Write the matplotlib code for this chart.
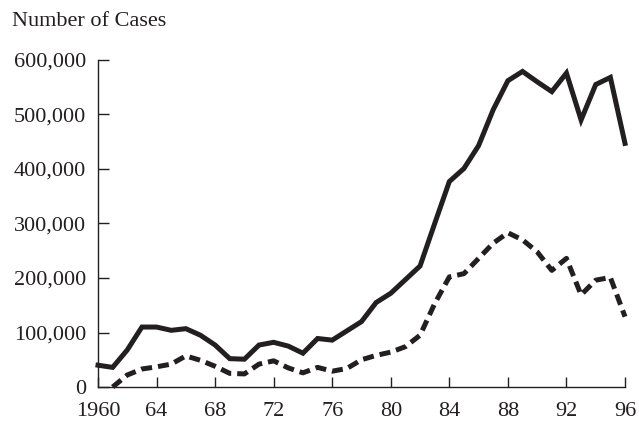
import matplotlib.pyplot as plt

# Datos
years = list(range(1960, 1997))
total = [40000, 36000, 68000, 110000, 110000, 104000, 107000, 95000, 77000, 52000,
         51000, 77000, 82000, 75000, 62000, 89000, 86000, 103000, 120000, 155000,
         172000, 197000, 222000, 300000, 377000, 401000, 443000, 509000, 562000, 579000,
         560000, 542000, 576000, 490000, 555000, 568000, 447000]
years2 = list(range(1961, 1997))
subset = [0, 22000, 33000, 37000, 42000, 57000, 49000, 38000, 25000, 24000,
          42000, 48000, 35000, 26000, 36000, 29000, 34000, 50000, 58000, 64000,
          74000, 95000, 153000, 202000, 208000, 236000, 264000, 283000, 270000, 248000,
          214000, 236000, 169000, 196000, 201000, 129000]

xticks = [1960, 1964, 1968, 1972, 1976, 1980, 1984, 1988, 1992, 1996]
xlabels = ['1960', '64', '68', '72', '76', '80', '84', '88', '92', '96']
yticks = [0, 100000, 200000, 300000, 400000, 500000, 600000]
ylabels = ['0', '100,000', '200,000', '300,000', '400,000', '500,000', '600,000']

plt.rcParams['font.family'] = 'Liberation Serif'

fig = plt.figure(figsize=(6.39, 4.23), dpi=100)
ax = fig.add_axes([98/639, 1 - 387/423, (625 - 98)/639, (387 - 60)/423])

ax.plot(years, total, color='#231f20', linewidth=3.6, solid_joinstyle='miter', clip_on=False)
ax.plot(years2, subset, color='#231f20', linewidth=3.6, linestyle=(0, (2.2, 1.2)),
        dash_capstyle='butt', clip_on=False)

ax.set_xlim(1960, 1996)
ax.set_ylim(0, 600000)
ax.spines['top'].set_visible(False)
ax.spines['right'].set_visible(False)
for s in ['left', 'bottom']:
    ax.spines[s].set_color('#231f20')
    ax.spines[s].set_linewidth(1.0)

ax.set_xticks(xticks)
ax.set_xticklabels(xlabels)
ax.set_yticks(yticks)
ax.set_yticklabels(ylabels)
ax.tick_params(axis='x', direction='in', length=7, width=1.0, pad=11,
               labelsize=16, colors='#231f20')
ax.tick_params(axis='y', direction='in', length=8, width=1.0, pad=8.5,
               labelsize=16, colors='#231f20')

fig.text(12/639, 1 - 22/423, 'Number of Cases', fontsize=16, color='#231f20',
         ha='left', va='center')

fig.savefig('out.png', dpi=100)
